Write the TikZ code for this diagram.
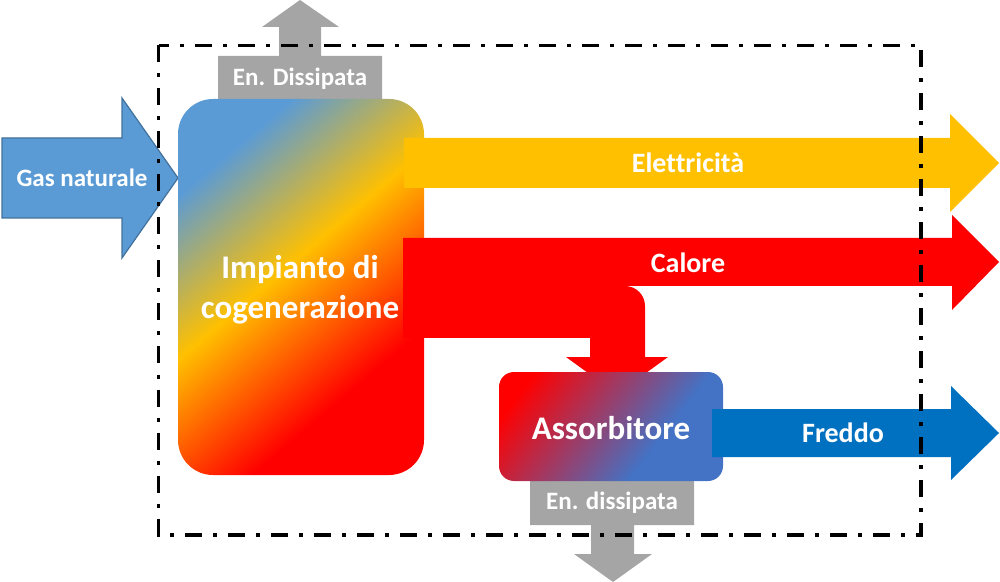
\documentclass[tikz,border=0pt]{standalone}
\usepackage{fontspec}
\setmainfont{Carlito}[Ligatures=NoCommon]
\definecolor{gasblue}{HTML}{5B9BD5}
\definecolor{gasedge}{HTML}{41719C}
\definecolor{elyellow}{HTML}{FFC000}
\definecolor{hotred}{HTML}{FF0000}
\definecolor{coldblue}{HTML}{0070C0}
\definecolor{absblue}{HTML}{4472C4}
\definecolor{lossgrey}{HTML}{A5A5A5}
\pgfdeclarehorizontalshading{cogenshade}{100bp}{color(0bp)=(gasblue); color(33.3bp)=(gasblue); color(47.25bp)=(elyellow); color(62.5bp)=(hotred); color(100bp)=(hotred)}
\pgfdeclarehorizontalshading{absshade}{100bp}{color(0bp)=(hotred); color(30.8bp)=(hotred); color(59.5bp)=(absblue); color(100bp)=(absblue)}
\begin{document}
\begin{tikzpicture}[x=0.5pt,y=-0.5pt,
  lbl/.style={text=white, font=\bfseries\fontsize{12.5pt}{15pt}\selectfont, inner sep=0pt},
  flowlbl/.style={text=white, font=\bfseries\fontsize{14pt}{17pt}\selectfont, inner sep=0pt},
  bigl/.style={text=white, font=\bfseries\fontsize{16.5pt}{20pt}\selectfont, inner sep=0pt, align=center},
  boundary/.style={line width=1.75pt, dash pattern=on 8.5pt off 5.5pt on 2pt off 5.5pt}]
\useasboundingbox (0,0) rectangle (1000,582);

% input: natural gas
\draw[fill=gasblue, draw=gasedge, line width=0.6pt, line join=miter] (2,138) -- (122,138) -- (122,98) -- (178,178) -- (122,258) -- (122,218) -- (2,218) -- cycle;

% dissipated energy (top)
\fill[lossgrey] (218,105) -- (218,56) -- (279,56) -- (279,27) -- (262,27) -- (300,0) -- (339,27) -- (321,27) -- (321,56) -- (382,56) -- (382,105) -- cycle;

% dissipated energy (bottom)
\fill[lossgrey] (530,475) -- (530,525) -- (591,525) -- (591,554) -- (574,554) -- (613,582) -- (652,554) -- (634,554) -- (634,525) -- (694,525) -- (694,475) -- cycle;

% cogeneration plant
\begin{scope}
\clip[rounded corners=17.5pt] (178,99) rectangle (424,475);
\begin{scope}[transform canvas={rotate around={-49.6:(301,287)}}]
\shade[shading=cogenshade] (78,-63) rectangle (524,637);
\end{scope}
\end{scope}

% heat
\fill[hotred] (403,238) -- (952,238) -- (952,215) -- (999,262) -- (952,310) -- (952,286) -- (625,286) arc[start angle=270, end angle=360, radius=20] -- (645,357) -- (668,357) -- (617,394) -- (566,357) -- (590,357) -- (590,338) -- (403,338) -- cycle;

% absorber
\begin{scope}
\clip[rounded corners=7.5pt] (499,372) rectangle (723,481);
\begin{scope}[transform canvas={rotate around={-37.6:(611,426.5)}}]
\shade[shading=absshade] (489,226.5) rectangle (733,626.5);
\end{scope}
\end{scope}

% electricity
\fill[elyellow] (404,138) -- (950,138) -- (950,114) -- (999,163) -- (950,212) -- (950,188) -- (404,188) -- cycle;

% cold
\fill[coldblue] (712,409) -- (951,409) -- (951,386) -- (999,433) -- (951,480) -- (951,457) -- (712,457) -- cycle;

% labels
\node[lbl] (gaslbl) at (82,178) {Gas naturale};
\node[lbl] (toploss) at (300,79) {En. Dissipata};
\node[bigl] (cogenlbl) at (300,290) {Impianto di\\cogenerazione};
\node[flowlbl] (ellbl) at (688,163) {Elettricità};
\node[flowlbl] (callbl) at (688,263) {Calore};
\node[bigl] (abslbl) at (611,428) {Assorbitore};
\node[flowlbl] (frlbl) at (843,433) {Freddo};
\node[lbl] (botloss) at (612,503) {En. dissipata};

% system boundary
\draw[boundary] (158.5,45.5) rectangle (921,535);
\end{tikzpicture}
\end{document}
